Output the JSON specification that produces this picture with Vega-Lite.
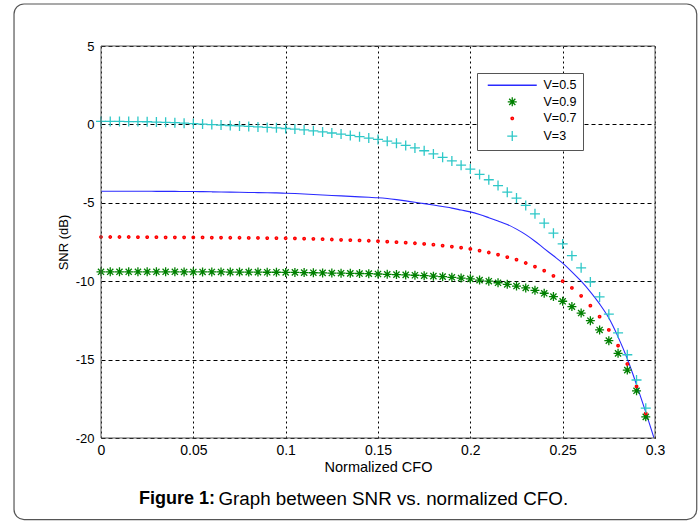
{
  "$schema": "https://vega.github.io/schema/vega-lite/v6.json",
  "width": 554,
  "height": 392,
  "autosize": {"type": "none"},
  "padding": {"left": 101, "top": 46, "right": 44, "bottom": 84},
  "background": "white",
  "config": {
    "view": {"stroke": null},
    "font": "Liberation Sans",
    "axis": {
      "grid": true, "gridColor": "#000000", "gridOpacity": 1, "gridWidth": 1,
      "domain": false, "ticks": false, "labelFlush": false,
      "labelFontSize": 13, "labelColor": "#000000", "labelFont": "Liberation Sans",
      "titleFontSize": 13, "titleFontWeight": "normal", "titleColor": "#000000", "titleFont": "Liberation Sans"
    },
    "legend": {
      "orient": "none", "legendX": 376, "legendY": 27,
      "padding": 6, "strokeColor": "#555555", "fillColor": "#ffffff",
      "labelFontSize": 12.5, "labelFont": "Liberation Sans", "labelColor": "#000000",
      "symbolSize": 100, "symbolStrokeWidth": 1.3, "rowPadding": 2.6,
      "symbolOffset": 23, "labelOffset": 25, "cornerRadius": 0
    }
  },
  "data": {
    "values": [
      {"s":"V=0.5","x":0,"y":-4.26},{"s":"V=0.5","x":0.005,"y":-4.26},{"s":"V=0.5","x":0.01,"y":-4.26},{"s":"V=0.5","x":0.015,"y":-4.26},{"s":"V=0.5","x":0.02,"y":-4.26},{"s":"V=0.5","x":0.025,"y":-4.26},{"s":"V=0.5","x":0.03,"y":-4.27},{"s":"V=0.5","x":0.035,"y":-4.27},{"s":"V=0.5","x":0.04,"y":-4.27},{"s":"V=0.5","x":0.045,"y":-4.28},
      {"s":"V=0.5","x":0.05,"y":-4.28},{"s":"V=0.5","x":0.055,"y":-4.29},{"s":"V=0.5","x":0.06,"y":-4.3},{"s":"V=0.5","x":0.065,"y":-4.31},{"s":"V=0.5","x":0.07,"y":-4.32},{"s":"V=0.5","x":0.075,"y":-4.33},{"s":"V=0.5","x":0.08,"y":-4.34},{"s":"V=0.5","x":0.085,"y":-4.35},{"s":"V=0.5","x":0.09,"y":-4.36},{"s":"V=0.5","x":0.095,"y":-4.37},
      {"s":"V=0.5","x":0.1,"y":-4.39},{"s":"V=0.5","x":0.105,"y":-4.41},{"s":"V=0.5","x":0.11,"y":-4.44},{"s":"V=0.5","x":0.115,"y":-4.47},{"s":"V=0.5","x":0.12,"y":-4.5},{"s":"V=0.5","x":0.125,"y":-4.53},{"s":"V=0.5","x":0.13,"y":-4.56},{"s":"V=0.5","x":0.135,"y":-4.59},{"s":"V=0.5","x":0.14,"y":-4.62},{"s":"V=0.5","x":0.145,"y":-4.65},
      {"s":"V=0.5","x":0.15,"y":-4.68},{"s":"V=0.5","x":0.155,"y":-4.73},{"s":"V=0.5","x":0.16,"y":-4.8},{"s":"V=0.5","x":0.165,"y":-4.88},{"s":"V=0.5","x":0.17,"y":-4.97},{"s":"V=0.5","x":0.175,"y":-5.05},{"s":"V=0.5","x":0.18,"y":-5.14},{"s":"V=0.5","x":0.185,"y":-5.24},{"s":"V=0.5","x":0.19,"y":-5.34},{"s":"V=0.5","x":0.195,"y":-5.46},
      {"s":"V=0.5","x":0.2,"y":-5.58},{"s":"V=0.5","x":0.205,"y":-5.75},{"s":"V=0.5","x":0.21,"y":-5.95},{"s":"V=0.5","x":0.215,"y":-6.16},{"s":"V=0.5","x":0.22,"y":-6.38},{"s":"V=0.5","x":0.225,"y":-6.68},{"s":"V=0.5","x":0.23,"y":-7.03},{"s":"V=0.5","x":0.235,"y":-7.45},{"s":"V=0.5","x":0.24,"y":-7.92},{"s":"V=0.5","x":0.245,"y":-8.38},
      {"s":"V=0.5","x":0.25,"y":-8.85},{"s":"V=0.5","x":0.255,"y":-9.4},{"s":"V=0.5","x":0.26,"y":-10.0},{"s":"V=0.5","x":0.265,"y":-10.68},{"s":"V=0.5","x":0.27,"y":-11.45},{"s":"V=0.5","x":0.275,"y":-12.35},{"s":"V=0.5","x":0.28,"y":-13.55},{"s":"V=0.5","x":0.285,"y":-14.95},{"s":"V=0.5","x":0.29,"y":-16.6},{"s":"V=0.5","x":0.295,"y":-18.35},{"s":"V=0.5","x":0.3,"y":-20.2},

      {"s":"V=0.9","x":0,"y":-9.4},{"s":"V=0.9","x":0.005,"y":-9.4},{"s":"V=0.9","x":0.01,"y":-9.4},{"s":"V=0.9","x":0.015,"y":-9.4},{"s":"V=0.9","x":0.02,"y":-9.4},{"s":"V=0.9","x":0.025,"y":-9.4},{"s":"V=0.9","x":0.03,"y":-9.4},{"s":"V=0.9","x":0.035,"y":-9.4},{"s":"V=0.9","x":0.04,"y":-9.4},{"s":"V=0.9","x":0.045,"y":-9.41},
      {"s":"V=0.9","x":0.05,"y":-9.41},{"s":"V=0.9","x":0.055,"y":-9.41},{"s":"V=0.9","x":0.06,"y":-9.41},{"s":"V=0.9","x":0.065,"y":-9.41},{"s":"V=0.9","x":0.07,"y":-9.42},{"s":"V=0.9","x":0.075,"y":-9.42},{"s":"V=0.9","x":0.08,"y":-9.42},{"s":"V=0.9","x":0.085,"y":-9.42},{"s":"V=0.9","x":0.09,"y":-9.43},{"s":"V=0.9","x":0.095,"y":-9.43},
      {"s":"V=0.9","x":0.1,"y":-9.44},{"s":"V=0.9","x":0.105,"y":-9.44},{"s":"V=0.9","x":0.11,"y":-9.45},{"s":"V=0.9","x":0.115,"y":-9.46},{"s":"V=0.9","x":0.12,"y":-9.47},{"s":"V=0.9","x":0.125,"y":-9.48},{"s":"V=0.9","x":0.13,"y":-9.49},{"s":"V=0.9","x":0.135,"y":-9.5},{"s":"V=0.9","x":0.14,"y":-9.51},{"s":"V=0.9","x":0.145,"y":-9.52},
      {"s":"V=0.9","x":0.15,"y":-9.54},{"s":"V=0.9","x":0.155,"y":-9.56},{"s":"V=0.9","x":0.16,"y":-9.58},{"s":"V=0.9","x":0.165,"y":-9.6},{"s":"V=0.9","x":0.17,"y":-9.62},{"s":"V=0.9","x":0.175,"y":-9.65},{"s":"V=0.9","x":0.18,"y":-9.68},{"s":"V=0.9","x":0.185,"y":-9.71},{"s":"V=0.9","x":0.19,"y":-9.75},{"s":"V=0.9","x":0.195,"y":-9.8},
      {"s":"V=0.9","x":0.2,"y":-9.85},{"s":"V=0.9","x":0.205,"y":-9.93},{"s":"V=0.9","x":0.21,"y":-10.0},{"s":"V=0.9","x":0.215,"y":-10.1},{"s":"V=0.9","x":0.22,"y":-10.2},{"s":"V=0.9","x":0.225,"y":-10.31},{"s":"V=0.9","x":0.23,"y":-10.43},{"s":"V=0.9","x":0.235,"y":-10.58},{"s":"V=0.9","x":0.24,"y":-10.77},{"s":"V=0.9","x":0.245,"y":-10.98},
      {"s":"V=0.9","x":0.25,"y":-11.28},{"s":"V=0.9","x":0.255,"y":-11.62},{"s":"V=0.9","x":0.26,"y":-12.03},{"s":"V=0.9","x":0.265,"y":-12.52},{"s":"V=0.9","x":0.27,"y":-13.11},{"s":"V=0.9","x":0.275,"y":-13.79},{"s":"V=0.9","x":0.28,"y":-14.6},{"s":"V=0.9","x":0.285,"y":-15.67},{"s":"V=0.9","x":0.29,"y":-16.99},{"s":"V=0.9","x":0.295,"y":-18.65},

      {"s":"V=0.7","x":0,"y":-7.18},{"s":"V=0.7","x":0.005,"y":-7.18},{"s":"V=0.7","x":0.01,"y":-7.18},{"s":"V=0.7","x":0.015,"y":-7.18},{"s":"V=0.7","x":0.02,"y":-7.19},{"s":"V=0.7","x":0.025,"y":-7.19},{"s":"V=0.7","x":0.03,"y":-7.19},{"s":"V=0.7","x":0.035,"y":-7.2},{"s":"V=0.7","x":0.04,"y":-7.2},{"s":"V=0.7","x":0.045,"y":-7.2},
      {"s":"V=0.7","x":0.05,"y":-7.21},{"s":"V=0.7","x":0.055,"y":-7.21},{"s":"V=0.7","x":0.06,"y":-7.22},{"s":"V=0.7","x":0.065,"y":-7.22},{"s":"V=0.7","x":0.07,"y":-7.23},{"s":"V=0.7","x":0.075,"y":-7.23},{"s":"V=0.7","x":0.08,"y":-7.24},{"s":"V=0.7","x":0.085,"y":-7.24},{"s":"V=0.7","x":0.09,"y":-7.25},{"s":"V=0.7","x":0.095,"y":-7.25},
      {"s":"V=0.7","x":0.1,"y":-7.26},{"s":"V=0.7","x":0.105,"y":-7.27},{"s":"V=0.7","x":0.11,"y":-7.29},{"s":"V=0.7","x":0.115,"y":-7.3},{"s":"V=0.7","x":0.12,"y":-7.32},{"s":"V=0.7","x":0.125,"y":-7.34},{"s":"V=0.7","x":0.13,"y":-7.36},{"s":"V=0.7","x":0.135,"y":-7.38},{"s":"V=0.7","x":0.14,"y":-7.4},{"s":"V=0.7","x":0.145,"y":-7.42},
      {"s":"V=0.7","x":0.15,"y":-7.45},{"s":"V=0.7","x":0.155,"y":-7.48},{"s":"V=0.7","x":0.16,"y":-7.51},{"s":"V=0.7","x":0.165,"y":-7.54},{"s":"V=0.7","x":0.17,"y":-7.58},{"s":"V=0.7","x":0.175,"y":-7.62},{"s":"V=0.7","x":0.18,"y":-7.67},{"s":"V=0.7","x":0.185,"y":-7.73},{"s":"V=0.7","x":0.19,"y":-7.79},{"s":"V=0.7","x":0.195,"y":-7.86},
      {"s":"V=0.7","x":0.2,"y":-7.94},{"s":"V=0.7","x":0.205,"y":-8.05},{"s":"V=0.7","x":0.21,"y":-8.17},{"s":"V=0.7","x":0.215,"y":-8.3},{"s":"V=0.7","x":0.22,"y":-8.46},{"s":"V=0.7","x":0.225,"y":-8.62},{"s":"V=0.7","x":0.23,"y":-8.84},{"s":"V=0.7","x":0.235,"y":-9.07},{"s":"V=0.7","x":0.24,"y":-9.32},{"s":"V=0.7","x":0.245,"y":-9.66},
      {"s":"V=0.7","x":0.25,"y":-10.0},{"s":"V=0.7","x":0.255,"y":-10.43},{"s":"V=0.7","x":0.26,"y":-10.93},{"s":"V=0.7","x":0.265,"y":-11.56},{"s":"V=0.7","x":0.27,"y":-12.26},{"s":"V=0.7","x":0.275,"y":-13.11},{"s":"V=0.7","x":0.28,"y":-14.11},{"s":"V=0.7","x":0.285,"y":-15.28},{"s":"V=0.7","x":0.29,"y":-16.71},{"s":"V=0.7","x":0.295,"y":-18.43},

      {"s":"V=3","x":0,"y":0.19},{"s":"V=3","x":0.005,"y":0.19},{"s":"V=3","x":0.01,"y":0.19},{"s":"V=3","x":0.015,"y":0.18},{"s":"V=3","x":0.02,"y":0.18},{"s":"V=3","x":0.025,"y":0.17},{"s":"V=3","x":0.03,"y":0.15},{"s":"V=3","x":0.035,"y":0.13},{"s":"V=3","x":0.04,"y":0.11},{"s":"V=3","x":0.045,"y":0.08},
      {"s":"V=3","x":0.05,"y":0.05},{"s":"V=3","x":0.055,"y":0.02},{"s":"V=3","x":0.06,"y":-0.01},{"s":"V=3","x":0.065,"y":-0.04},{"s":"V=3","x":0.07,"y":-0.07},{"s":"V=3","x":0.075,"y":-0.1},{"s":"V=3","x":0.08,"y":-0.13},{"s":"V=3","x":0.085,"y":-0.16},{"s":"V=3","x":0.09,"y":-0.19},{"s":"V=3","x":0.095,"y":-0.22},
      {"s":"V=3","x":0.1,"y":-0.26},{"s":"V=3","x":0.105,"y":-0.3},{"s":"V=3","x":0.11,"y":-0.35},{"s":"V=3","x":0.115,"y":-0.41},{"s":"V=3","x":0.12,"y":-0.48},{"s":"V=3","x":0.125,"y":-0.55},{"s":"V=3","x":0.13,"y":-0.62},{"s":"V=3","x":0.135,"y":-0.7},{"s":"V=3","x":0.14,"y":-0.78},{"s":"V=3","x":0.145,"y":-0.87},
      {"s":"V=3","x":0.15,"y":-0.96},{"s":"V=3","x":0.155,"y":-1.07},{"s":"V=3","x":0.16,"y":-1.2},{"s":"V=3","x":0.165,"y":-1.34},{"s":"V=3","x":0.17,"y":-1.5},{"s":"V=3","x":0.175,"y":-1.68},{"s":"V=3","x":0.18,"y":-1.88},{"s":"V=3","x":0.185,"y":-2.1},{"s":"V=3","x":0.19,"y":-2.33},{"s":"V=3","x":0.195,"y":-2.6},
      {"s":"V=3","x":0.2,"y":-2.85},{"s":"V=3","x":0.205,"y":-3.19},{"s":"V=3","x":0.21,"y":-3.53},{"s":"V=3","x":0.215,"y":-3.9},{"s":"V=3","x":0.22,"y":-4.32},{"s":"V=3","x":0.225,"y":-4.7},{"s":"V=3","x":0.23,"y":-5.17},{"s":"V=3","x":0.235,"y":-5.7},{"s":"V=3","x":0.24,"y":-6.3},{"s":"V=3","x":0.245,"y":-6.94},
      {"s":"V=3","x":0.25,"y":-7.62},{"s":"V=3","x":0.255,"y":-8.37},{"s":"V=3","x":0.26,"y":-9.15},{"s":"V=3","x":0.265,"y":-10.05},{"s":"V=3","x":0.27,"y":-11.0},{"s":"V=3","x":0.275,"y":-12.1},{"s":"V=3","x":0.28,"y":-13.3},{"s":"V=3","x":0.285,"y":-14.69},{"s":"V=3","x":0.29,"y":-16.3},{"s":"V=3","x":0.295,"y":-18.1}
    ]
  },
  "layer": [
    {
      "data": {"values": [{}]},
      "mark": {"type": "rect", "fill": null, "fillOpacity": 0, "stroke": "#555555", "strokeWidth": 1.2, "cornerRadius": 10},
      "encoding": {
        "x": {"datum": -0.0471, "type": "quantitative", "scale": {"domain": [0, 0.3], "nice": false, "zero": false},
              "axis": {"values": [0, 0.05, 0.1, 0.15, 0.2, 0.25, 0.3], "title": "Normalized CFO", "gridDash": [2, 3], "labelPadding": 5, "titlePadding": 3, "labelFontSize": 14, "titleFontSize": 14.5, "labelExpr": "'' + datum.value"}},
        "x2": {"datum": 0.3226},
        "y": {"datum": 7.68, "type": "quantitative", "scale": {"domain": [-20, 5], "nice": false, "zero": false},
              "axis": {"values": [-20, -15, -10, -5, 0, 5], "title": "SNR (dB)", "gridDash": [4, 3], "labelPadding": 7, "titlePadding": 5, "labelExpr": "'' + datum.value"}},
        "y2": {"datum": -25.2}
      }
    },
    {
      "transform": [{"filter": "datum.s == 'V=0.5'"}],
      "mark": {"type": "line", "color": "#2a2aff", "strokeWidth": 1.1, "interpolate": "monotone", "clip": true},
      "encoding": {
        "x": {"field": "x", "type": "quantitative"},
        "y": {"field": "y", "type": "quantitative"}
      }
    },
    {
      "transform": [{"filter": "datum.s != 'V=0.5'"}],
      "mark": {"type": "point", "filled": false, "strokeWidth": 1.3, "size": 100, "opacity": 1},
      "encoding": {
        "x": {"field": "x", "type": "quantitative"},
        "y": {"field": "y", "type": "quantitative"},
        "color": {"field": "s", "type": "nominal",
                  "scale": {"domain": ["V=0.5", "V=0.9", "V=0.7", "V=3"], "range": ["#2a2aff", "#008000", "#ff0000", "#2ec8c8"]},
                  "legend": {"title": null}},
        "shape": {"field": "s", "type": "nominal",
                  "scale": {"domain": ["V=0.5", "V=0.9", "V=0.7", "V=3"],
                            "range": ["M-4.9,0L4.9,0", "M-0.9,0L0.9,0M0,-0.9L0,0.9M-0.62,-0.62L0.62,0.62M-0.62,0.62L0.62,-0.62", "M-0.25,0A0.25,0.25,0,1,1,0.25,0A0.25,0.25,0,1,1,-0.25,0ZM-0.07,0A0.07,0.07,0,1,1,0.07,0A0.07,0.07,0,1,1,-0.07,0Z", "M-1,0L1,0M0,-1L0,1"]},
                  "legend": {"title": null}}
      }
    },
    {
      "data": {"values": [{}]},
      "mark": {"type": "rect", "fill": null, "fillOpacity": 0, "stroke": "#555555", "strokeWidth": 1},
      "encoding": {
        "x": {"datum": 0}, "x2": {"datum": 0.3},
        "y": {"datum": -20}, "y2": {"datum": 5}
      }
    },
    {
      "data": {"values": [{}]},
      "mark": {"type": "text", "text": "Figure 1:", "fontWeight": "bold", "fontSize": 18, "align": "right", "baseline": "middle", "color": "#000000", "font": "Liberation Sans"},
      "encoding": {"x": {"datum": 0.0617}, "y": {"datum": -23.89}}
    },
    {
      "data": {"values": [{}]},
      "mark": {"type": "text", "text": "Graph between SNR vs. normalized CFO.", "fontSize": 18.8, "align": "left", "baseline": "middle", "color": "#000000", "font": "Liberation Sans"},
      "encoding": {"x": {"datum": 0.0636}, "y": {"datum": -23.89}}
    }
  ]
}
